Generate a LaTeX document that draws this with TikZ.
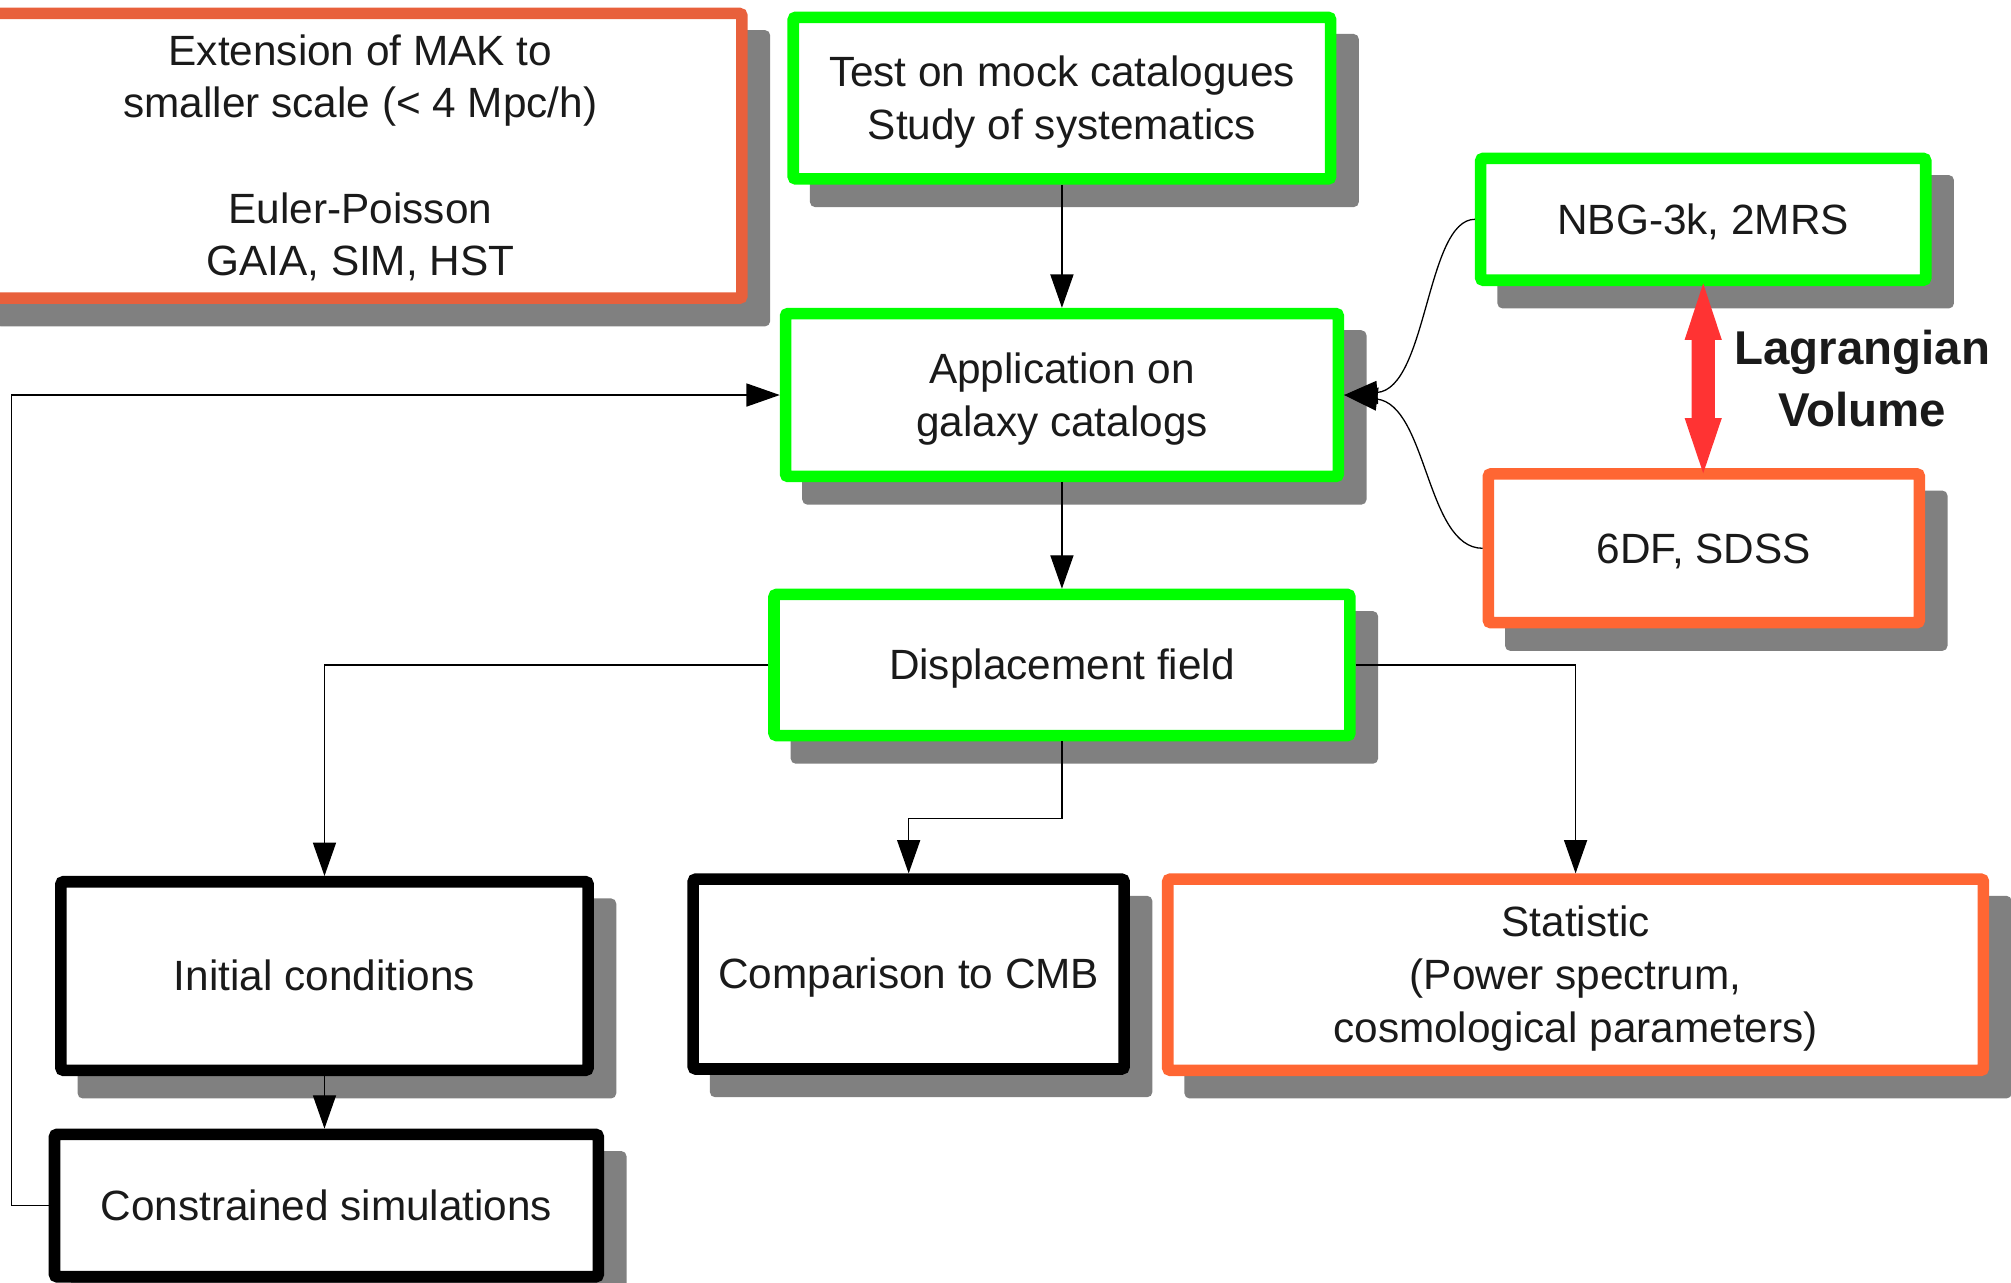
\documentclass[tikz,border=0pt]{standalone}
\usepackage{fontspec}
\setmainfont{Liberation Sans}
\usetikzlibrary{arrows.meta,backgrounds,calc}
\definecolor{boxgreen}{HTML}{00FF00}
\definecolor{boxred}{HTML}{E8603C}
\definecolor{boxorange}{HTML}{FF6633}
\definecolor{shadowgray}{HTML}{808080}
\definecolor{arrowred}{HTML}{FF3333}
\definecolor{textcol}{HTML}{1A1A1A}
\newcommand{\boxtxt}[1]{\raisebox{-1.65pt}[\height][\depth]{\begin{tabular}{@{}c@{}}#1\end{tabular}}}
\begin{document}
\begin{tikzpicture}[x=0.5pt,y=-0.5pt,
  box/.style={draw, line width=4.5pt, fill=white, rounded corners=1pt,
    font=\fontsize{16.5}{20.5}\selectfont, text=textcol, inner sep=0pt},
  greenbox/.style={box, draw=boxgreen},
  redbox/.style={box, draw=boxred},
  orangebox/.style={box, draw=boxorange},
  blackbox/.style={box, draw=black},
  conn/.style={draw=black, line width=0.5pt, -{Triangle[length=13pt,width=9pt]}},
  shadowbox/.style={fill=shadowgray, rounded corners=2pt}
]
\useasboundingbox (0,0) rectangle (1568,1000);

\node[redbox, minimum width=297.5pt, minimum height=111pt] (A) at (281,121.5)
  {\boxtxt{Extension of MAK to\\smaller scale (< 4 Mpc/h)\\[20.5pt]Euler-Poisson\\GAIA, SIM, HST}};
\node[greenbox, minimum width=209.5pt, minimum height=63pt] (B) at (828,76.5)
  {\boxtxt{Test on mock catalogues\\Study of systematics}};
\node[greenbox, minimum width=215.5pt, minimum height=63.5pt] (C) at (828,308)
  {\boxtxt{Application on\\galaxy catalogs}};
\node[greenbox, minimum width=224.5pt, minimum height=55pt] (D) at (828,518.5)
  {\boxtxt{Displacement field}};
\node[greenbox, minimum width=173.5pt, minimum height=47.5pt] (E) at (1328,171)
  {\boxtxt{NBG-3k, 2MRS}};
\node[orangebox, minimum width=168pt, minimum height=58pt] (F) at (1328.5,427.5)
  {\boxtxt{6DF, SDSS}};
\node[blackbox, minimum width=205.5pt, minimum height=73.5pt] (G) at (253,761)
  {\boxtxt{Initial conditions}};
\node[blackbox, minimum width=212pt, minimum height=55.5pt] (H) at (254.5,940)
  {\boxtxt{Constrained simulations}};
\node[blackbox, minimum width=168pt, minimum height=74pt] (I) at (708.5,759.5)
  {\boxtxt{Comparison to CMB}};
\node[orangebox, minimum width=318pt, minimum height=74.5pt] (J) at (1228.5,760)
  {\boxtxt{Statistic\\(Power spectrum,\\cosmological parameters)}};

\node[align=center, text=textcol, font=\fontsize{18.5}{24}\selectfont\bfseries] (lagr) at (1452,295)
  {Lagrangian\\Volume};

\begin{scope}[on background layer]
  \foreach \n in {A,B,C,D,E,F,G,H,I,J}
    \fill[shadowbox] ([shift={(8.75pt,-8.75pt)}]\n.south west) rectangle ([shift={(8.75pt,-8.75pt)}]\n.north east);
\end{scope}

\draw[conn] (B.south) -- (C.north);
\draw[conn] (C.south) -- (D.north);
\draw[conn] (D.west) -| (G.north);
\draw[conn] (D.south) -- ++(0,60) -| (I.north);
\draw[conn] (D.east) -| (J.north);
\draw[conn] (G.south) -- (G.south |- H.north);
\draw[conn] (H.west) -- ++(-29,0) |- (C.west);
\draw[conn] (E.west) .. controls +(-38,0) and +(65,-5) .. (C.east);
\draw[conn] (F.west) .. controls +(-44,0) and +(65,8) .. (C.east);

\coordinate (lt) at ($(E.south)+(0,-2)$);
\coordinate (lb) at ($(E.south |- F.north)+(0,4)$);
\fill[arrowred] (lt) -- ++(14.5,44) -- ++(-5.5,0) -- ($(lb)+(9,-43)$) -- ++(5.5,0)
  -- (lb) -- ++(-14.5,-43) -- ++(5.5,0) -- ($(lt)+(-9,44)$) -- ++(-5.5,0) -- cycle;
\end{tikzpicture}
\end{document}
